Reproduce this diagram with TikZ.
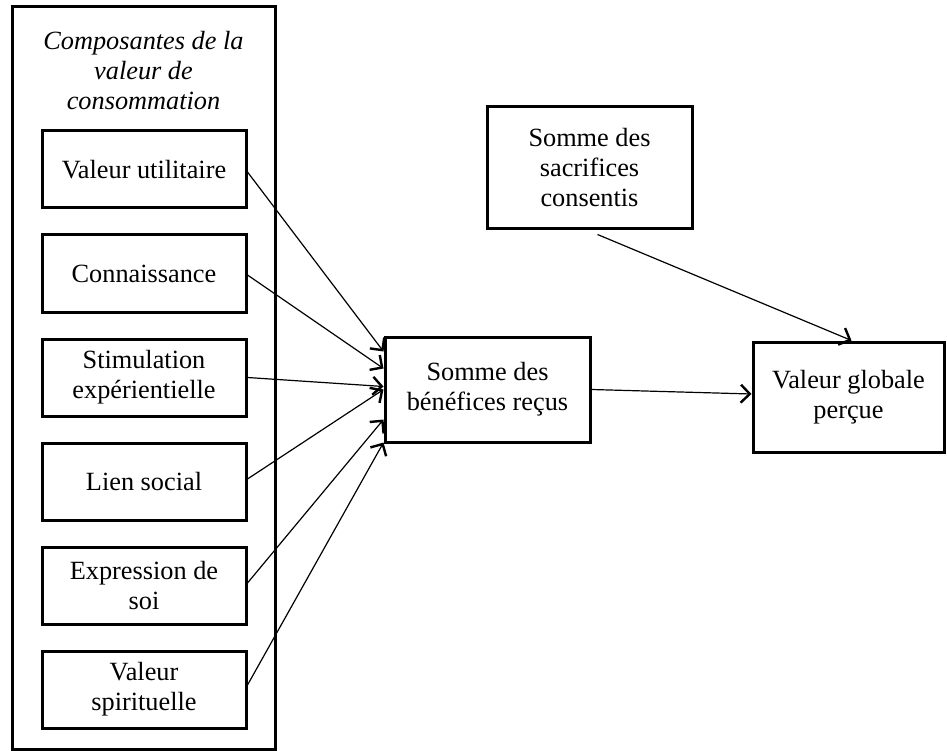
\documentclass[tikz,border=0pt]{standalone}
\usepackage{fontspec}
\setmainfont{Liberation Serif}
\usetikzlibrary{arrows.meta,calc}
\begin{document}
\begin{tikzpicture}[x=1pt,y=-1pt,
  box/.style={draw=black,line width=3pt,rectangle,inner sep=0pt,align=center,
    font=\fontsize{26.3}{30}\selectfont},
  comp/.style={box,minimum width=204pt,minimum height=77pt},
  arr/.style={line width=1.2pt,-{Straight Barb[length=9pt,width=18pt,line width=2.4pt]}}]
\useasboundingbox (0,0) rectangle (947,751);
\fill[white] (0,0) rectangle (947,751);
\node[box,minimum width=263pt,minimum height=742pt] (outer) at (143.5,378) {};
\node[font=\fontsize{26.3}{30}\selectfont\itshape,align=center,anchor=base] (title) at (143.5,110)
  {Composantes de la\\valeur de\\consommation};
\node[comp] (u) at (144,169.5) {Valeur utilitaire};
\node[comp] (c) at (144,273.5) {Connaissance};
\node[comp] (s) at (144,377.5) {Stimulation\\expérientielle};
\node[comp] (l) at (144,481.5) {Lien social};
\node[comp] (e) at (144,585.5) {Expression de\\soi};
\node[comp] (p) at (144,689.5) {Valeur\\spirituelle};
\node[box,minimum width=205pt,minimum height=105pt] (ben) at (487.5,389.5) {Somme des\\bénéfices reçus};
\node[box,minimum width=205pt,minimum height=122pt] (sac) at (589.5,168) {Somme des\\sacrifices\\consentis};
\node[box,minimum width=191pt,minimum height=110pt] (vg) at (848.5,397) {Valeur globale\\perçue};
\draw[arr] ([yshift=-2.5pt]u.east) -- ([yshift=-16pt]ben.north west);
\draw[arr] ([yshift=-1.5pt]c.east) -- ([yshift=-33pt]ben.north west);
\draw[arr] (s.east) -- ([yshift=-51pt]ben.north west);
\draw[arr] ([yshift=2.5pt]l.east) -- ([yshift=-54pt]ben.north west);
\draw[arr] ([yshift=2.5pt]e.east) -- ([yshift=-84pt]ben.north west);
\draw[arr] ([yshift=4.5pt]p.east) -- ([yshift=-107pt]ben.north west);
\draw[arr] (ben.east) -- ([yshift=3pt]vg.west);
\draw[arr] ([xshift=8pt,yshift=-4pt]sac.south) -- ([xshift=3pt]vg.north);
\end{tikzpicture}
\end{document}
